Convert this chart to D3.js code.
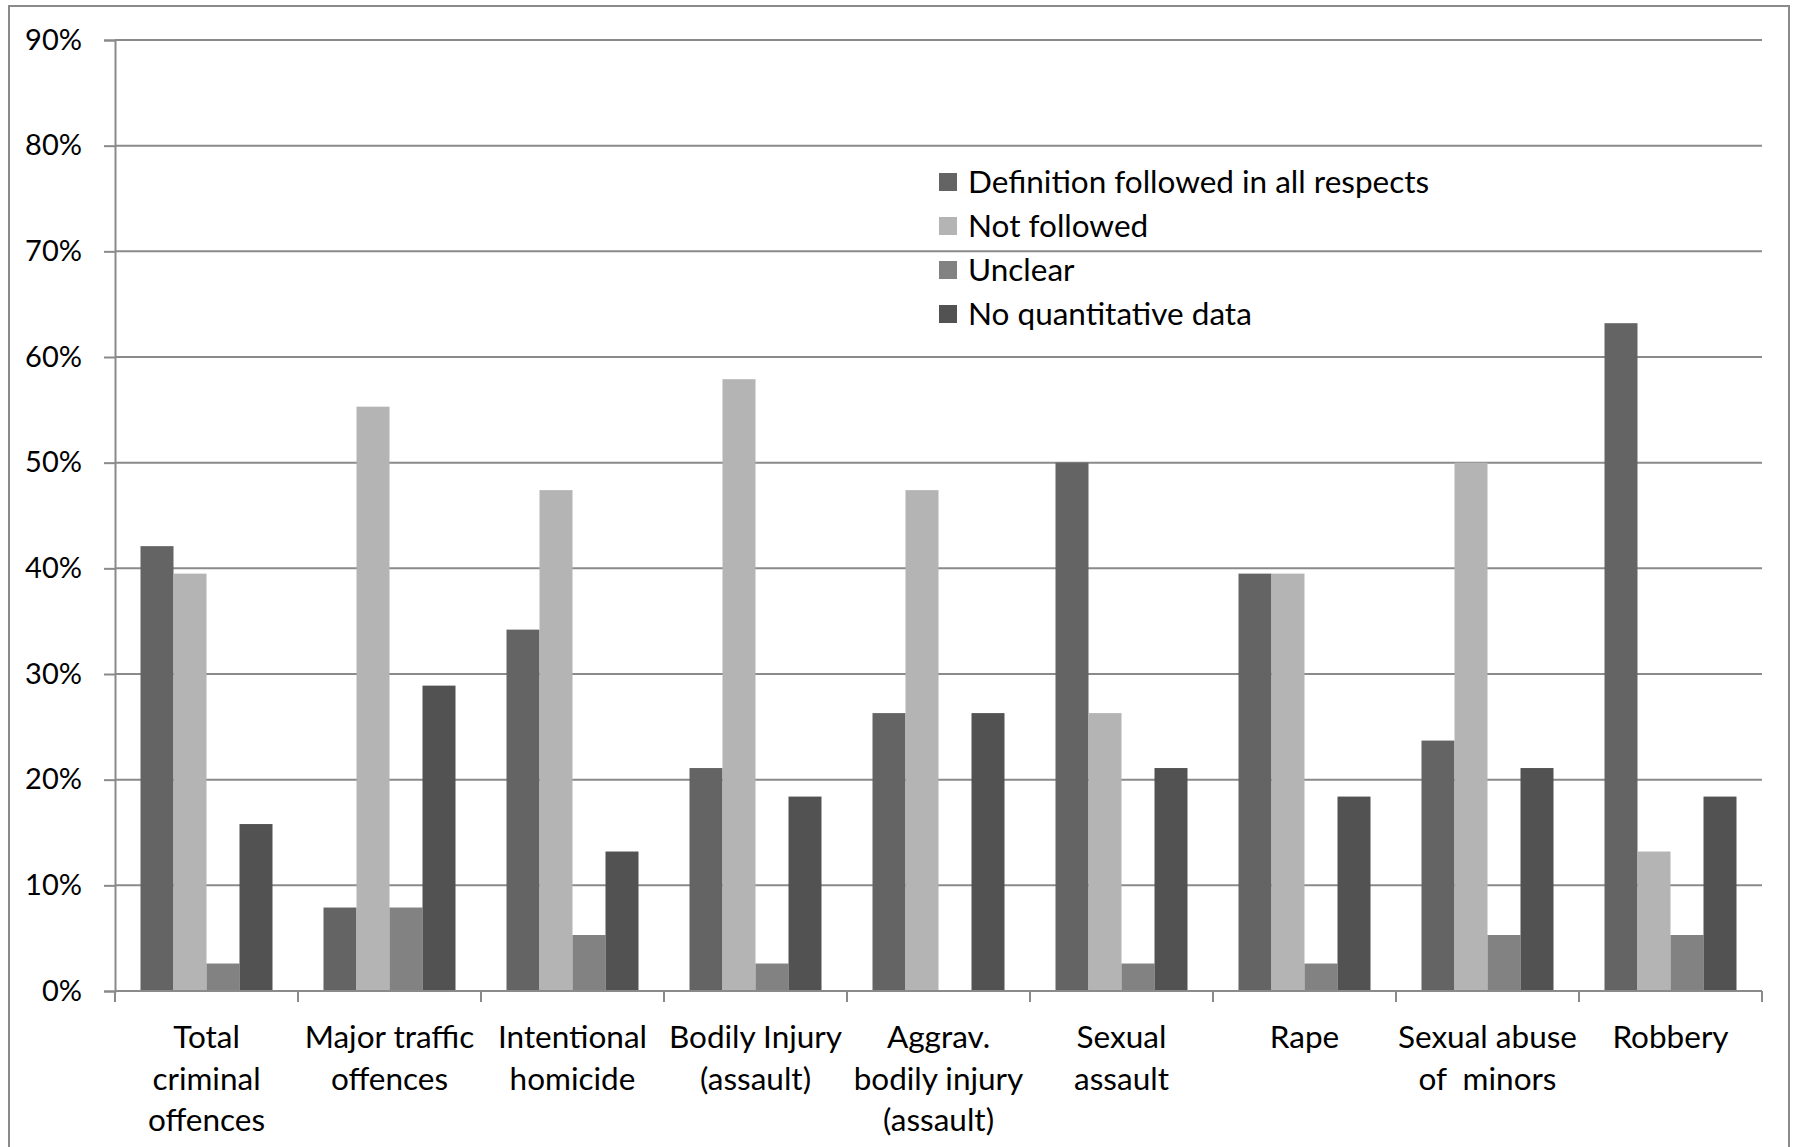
<!DOCTYPE html>
<html>
<head>
<meta charset="utf-8">
<script src="https://cdn.jsdelivr.net/npm/d3@7"></script>
<style>
  body { margin: 0; background: #fff; }
  text { font-family: Lato, "Open Sans", sans-serif; fill: #000; }
</style>
</head>
<body>
<div id="my_chart"></div>
<script>
// Categories (each label split in lines like the original)
var categories = [
  ["Total", "criminal", "offences"],
  ["Major traffic", "offences"],
  ["Intentional", "homicide"],
  ["Bodily Injury", "(assault)"],
  ["Aggrav.", "bodily injury", "(assault)"],
  ["Sexual", "assault"],
  ["Rape"],
  ["Sexual abuse", "of  minors"],
  ["Robbery"]
];

var seriesNames = [
  "Definition followed in all respects",
  "Not followed",
  "Unclear",
  "No quantitative data"
];

var seriesColors = ["#646464", "#b4b4b4", "#828282", "#525252"];

// values in %
var followedValues  = [42.1, 7.9, 34.2, 21.1, 26.3, 50.0, 39.5, 23.7, 63.2];
var notFollowedValues = [39.5, 55.3, 47.4, 57.9, 47.4, 26.3, 39.5, 50.0, 13.2];
var unclearValues   = [2.6, 7.9, 5.3, 2.6, 0, 2.6, 2.6, 5.3, 5.3];
var noDataValues    = [15.8, 28.9, 13.2, 18.4, 26.3, 21.1, 18.4, 21.1, 18.4];

var yTicks = [0, 10, 20, 30, 40, 50, 60, 70, 80, 90];

var allSeries = [followedValues, notFollowedValues, unclearValues, noDataValues];

var W = 1797, H = 1147;
var plot = {left: 115, right: 1762, top: 40, bottom: 991};

var svg = d3.select("#my_chart")
  .append("svg")
  .attr("width", W)
  .attr("height", H);

// outer frame
svg.append("rect")
  .attr("x", 9)
  .attr("y", 6)
  .attr("width", 1780)
  .attr("height", 1200)
  .attr("fill", "none")
  .attr("stroke", "#8a8a8a")
  .attr("stroke-width", 2);

var x0 = d3.scaleBand()
  .domain(d3.range(categories.length))
  .range([plot.left, plot.right])
  .padding(0);

var x1 = d3.scaleBand()
  .domain(d3.range(seriesNames.length))
  .range([25.5, x0.bandwidth() - 25.5])
  .padding(0);

var y = d3.scaleLinear()
  .domain([0, 90])
  .range([plot.bottom, plot.top]);

// gridlines
svg.append("g")
  .selectAll("line")
  .data(yTicks.filter(function(d) { return d > 0; }))
  .enter()
  .append("line")
    .attr("x1", plot.left)
    .attr("x2", plot.right)
    .attr("y1", function(d) { return y(d); })
    .attr("y2", function(d) { return y(d); })
    .attr("stroke", "#8a8a8a")
    .attr("stroke-width", 2);

// y axis
var yAxis = svg.append("g")
  .attr("transform", "translate(" + plot.left + ",0)")
  .call(d3.axisLeft(y).tickValues(yTicks).tickSize(11).tickPadding(22)
    .tickFormat(function(d) { return d + "%"; }));
yAxis.select(".domain").attr("stroke", "#8a8a8a").attr("stroke-width", 2);
yAxis.selectAll(".tick line").attr("stroke", "#8a8a8a").attr("stroke-width", 2);
yAxis.selectAll(".tick text")
  .style("font-family", "Lato, sans-serif")
  .style("font-size", "29px")
  .attr("fill", "#000");

// bars
var groups = svg.append("g")
  .selectAll("g")
  .data(categories)
  .enter()
  .append("g")
    .attr("transform", function(d, i) { return "translate(" + x0(i) + ",0)"; });

groups.selectAll("rect")
  .data(function(d, i) {
    return allSeries.map(function(s, k) { return {k: k, v: s[i]}; });
  })
  .enter()
  .append("rect")
    .attr("x", function(d) { return x1(d.k); })
    .attr("width", x1.bandwidth())
    .attr("y", function(d) { return y(d.v); })
    .attr("height", function(d) { return y(0) - y(d.v); })
    .attr("fill", function(d) { return seriesColors[d.k]; });

// x axis line with boundary ticks
svg.append("line")
  .attr("x1", plot.left)
  .attr("x2", plot.right)
  .attr("y1", plot.bottom)
  .attr("y2", plot.bottom)
  .attr("stroke", "#8a8a8a")
  .attr("stroke-width", 2);

svg.append("g")
  .selectAll("line")
  .data(d3.range(categories.length + 1))
  .enter()
  .append("line")
    .attr("x1", function(i) { return plot.left + i * x0.bandwidth(); })
    .attr("x2", function(i) { return plot.left + i * x0.bandwidth(); })
    .attr("y1", plot.bottom)
    .attr("y2", plot.bottom + 11)
    .attr("stroke", "#8a8a8a")
    .attr("stroke-width", 2);

// category labels
var labels = svg.append("g")
  .selectAll("text")
  .data(categories)
  .enter()
  .append("text")
    .attr("text-anchor", "middle")
    .style("font-size", "31.5px")
    .style("white-space", "pre")
    .attr("x", function(d, i) { return x0(i) + x0.bandwidth() / 2; });

labels.selectAll("tspan")
  .data(function(d) { return d; })
  .enter()
  .append("tspan")
    .attr("x", function() { return d3.select(this.parentNode).attr("x"); })
    .attr("y", function(d, j) { return 1048 + j * 41.5; })
    .text(function(d) { return d; });

// legend
var legend = svg.append("g")
  .attr("transform", "translate(939,182)");

var legendItems = legend.selectAll("g")
  .data(seriesNames)
  .enter()
  .append("g")
    .attr("transform", function(d, i) { return "translate(0," + (i * 44) + ")"; });

legendItems.append("rect")
  .attr("x", 0)
  .attr("y", -9)
  .attr("width", 18)
  .attr("height", 18)
  .attr("fill", function(d, i) { return seriesColors[i]; });

legendItems.append("text")
  .attr("x", 29)
  .attr("y", 11)
  .style("font-size", "31.5px")
  .text(function(d) { return d; });
</script>
</body>
</html>
